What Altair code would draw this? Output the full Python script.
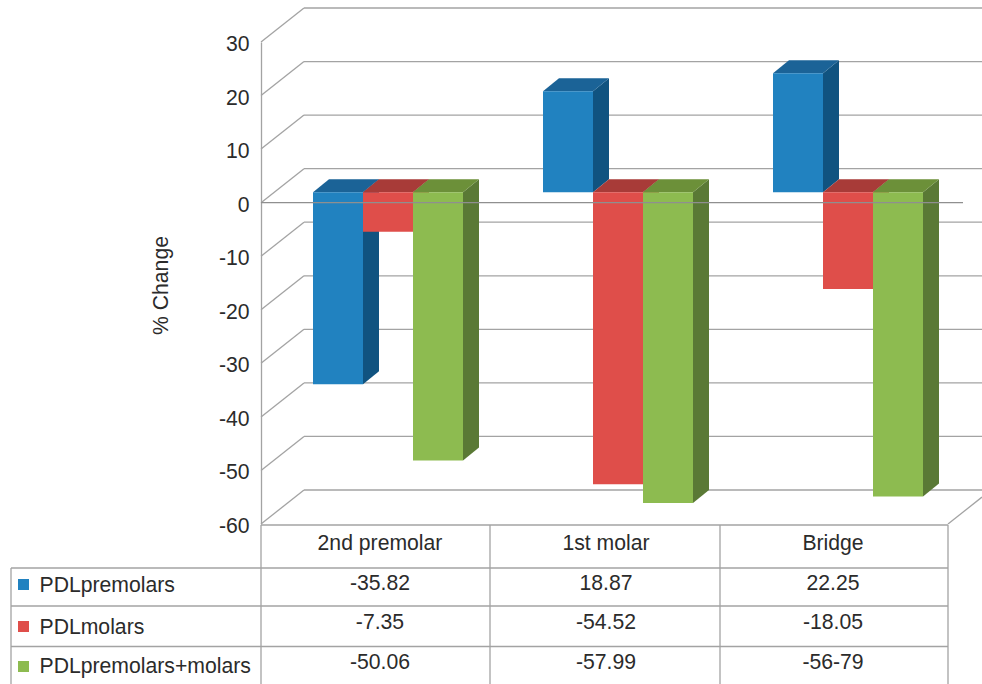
import altair as alt
import pandas as pd

# Chart values
categories = ["2nd premolar", "1st molar", "Bridge"]
series = ["PDLpremolars", "PDLmolars", "PDLpremolars+molars"]
premolars = [-35.82, 18.87, 22.25]
molars = [-7.35, -54.52, -18.05]
both = [-50.06, -57.99, -56.79]
cell_text = [
    ["-35.82", "18.87", "22.25"],
    ["-7.35", "-54.52", "-18.05"],
    ["-50.06", "-57.99", "-56-79"],
]
ticks = [30, 20, 10, 0, -10, -20, -30, -40, -50, -60]
front_colors = ["#2182c0", "#df4e4a", "#8dbb50"]
side_colors = ["#105380", "#a83b38", "#5a7935"]
top_colors = ["#1b6397", "#a83b38", "#6c9039"]

GRID = "#a3a3a3"
INK = "#2b2b2b"
FONT = "Liberation Sans"
FS = 21.2

# Layout: the plot spans x 261..982 and y 42..524 on the page
LEFT, TOP, W, H = 261, 42, 721, 482
CAT = 230                  # page pixels per category
PER_UNIT = H / 90          # page pixels per percentage point
ZERO_Y = TOP + 30 * PER_UNIT


def ux(px):
    """Page x to category units."""
    return (px - LEFT) / CAT


def uy(py):
    """Page y to percentage units."""
    return (ZERO_Y - py) / PER_UNIT


X_MAX = ux(LEFT + W)
x_scale = alt.Scale(domain=[0, X_MAX], nice=False, zero=False)
y_scale = alt.Scale(domain=[-60, 30], nice=False, zero=False)

y_axis = alt.Axis(
    values=ticks, grid=False, ticks=False, domainColor=GRID, domainWidth=1.3,
    labelFont=FONT, labelFontSize=FS, labelColor=INK, labelPadding=12,
    labelOffset=2.5, labelExpr="'' + datum.value",
    title="% Change", titleFont=FONT, titleFontSize=FS, titleFontWeight="normal",
    titleColor=INK, titleX=-90, titleY=243, titleAngle=270,
)

# Perspective offsets of the walls and of the bars, in scale units
WALL_DX, WALL_DY = 43 / CAT, 34 / PER_UNIT
BAR_DX, BAR_DY = 16 / CAT, 13 / PER_UNIT
BAR_W = 50 / CAT
BAR_X0 = 52 / CAT
BASE = 10.3 / PER_UNIT


def X(f):
    return alt.X(f, type="quantitative", scale=x_scale, axis=None)


def Y(f):
    return alt.Y(f, type="quantitative", scale=y_scale, axis=y_axis)


# Walls: a diagonal and a back line for every tick, then the right-hand diagonal
wall = []
for t in ticks:
    wall.append(dict(x=0, x2=WALL_DX, y=t, y2=t + WALL_DY))
    wall.append(dict(x=WALL_DX, x2=X_MAX, y=t + WALL_DY, y2=t + WALL_DY))
table_right = ux(948)
wall.append(dict(x=table_right, x2=X_MAX, y=-60,
                 y2=-60 + WALL_DY * (X_MAX - table_right) / WALL_DX))


def seg_layer(rows, color=GRID, width=1.3):
    return alt.Chart(pd.DataFrame(rows)).mark_rule(color=color, strokeWidth=width).encode(
        x=X("x"), x2="x2", y=Y("y"), y2="y2"
    )


layers = [seg_layer(wall)]

# Bars: side face, top face and front face for each series, left to right
for s, values in enumerate([premolars, molars, both]):
    fronts, sides, tops = [], [], []
    for c, v in enumerate(values):
        x0 = c + BAR_X0 + s * BAR_W
        x1 = x0 + BAR_W
        end = BASE + v
        cap = max(end, BASE)
        fronts.append(dict(x=x0, x2=x1, y=BASE, y2=end))
        sides.append(dict(cat=c, x=x1, y=BASE, y2=end))
        sides.append(dict(cat=c, x=x1 + BAR_DX, y=BASE + BAR_DY, y2=end + BAR_DY))
        tops.append(dict(cat=c, x=x0, x2=x1, y=cap))
        tops.append(dict(cat=c, x=x0 + BAR_DX, x2=x1 + BAR_DX, y=cap + BAR_DY))
    layers.append(alt.Chart(pd.DataFrame(sides)).mark_area(color=side_colors[s]).encode(
        x=X("x"), y=Y("y"), y2="y2", detail="cat:N"))
    layers.append(alt.Chart(pd.DataFrame(tops)).mark_area(color=top_colors[s], orient="horizontal").encode(
        x=X("x"), x2="x2", y=Y("y"), detail="cat:N"))
    layers.append(alt.Chart(pd.DataFrame(fronts)).mark_rect(color=front_colors[s]).encode(
        x=X("x"), x2="x2", y=Y("y"), y2="y2"))

# Zero line runs in front of the bars
layers.append(seg_layer([dict(x=0, x2=ux(963), y=0, y2=0)], color="#8f8f8f", width=1.4))

# Data table grid
row_lines = [525, 568, 606, 646.5]
col_lines = [261, 490, 720, 948]
bottom = uy(684)
grid = [dict(x=ux(261), x2=ux(948), y=uy(row_lines[0]), y2=uy(row_lines[0]))]
for r in row_lines[1:]:
    grid.append(dict(x=ux(11), x2=ux(948), y=uy(r), y2=uy(r)))
for c in col_lines:
    grid.append(dict(x=ux(c), x2=ux(c), y=uy(row_lines[0]), y2=bottom))
grid.append(dict(x=ux(11), x2=ux(11), y=uy(568), y2=bottom))
layers.append(seg_layer(grid))

# Table text
col_centers = [380, 606, 833]
value_rows = [584, 623, 663]
label_rows = [586, 628, 667]
cells = [dict(x=ux(col_centers[i]), y=uy(544), t=categories[i]) for i in range(3)]
for r in range(3):
    for c in range(3):
        cells.append(dict(x=ux(col_centers[c]), y=uy(value_rows[r]), t=cell_text[r][c]))
layers.append(alt.Chart(pd.DataFrame(cells)).mark_text(
    font=FONT, fontSize=FS, color=INK, align="center", baseline="middle"
).encode(x=X("x"), y=Y("y"), text="t:N"))

names = [dict(x=ux(39.5), y=uy(label_rows[i]), t=series[i]) for i in range(3)]
layers.append(alt.Chart(pd.DataFrame(names)).mark_text(
    font=FONT, fontSize=FS, color=INK, align="left", baseline="middle"
).encode(x=X("x"), y=Y("y"), text="t:N"))

# Legend keys in the table's first column
swatch_rows = [584.5, 626.5, 666.5]
keys = [dict(x=ux(23.5), y=uy(swatch_rows[i]), s=series[i]) for i in range(3)]
layers.append(alt.Chart(pd.DataFrame(keys)).mark_square(size=121, opacity=1).encode(
    x=X("x"), y=Y("y"),
    color=alt.Color("s:N", scale=alt.Scale(domain=series, range=front_colors), legend=None),
))

chart = alt.layer(*layers).properties(
    width=W, height=H, background="white",
    autosize=alt.AutoSizeParams(type="none"),
    padding={"left": LEFT, "top": TOP, "right": 0, "bottom": 684 - TOP - H},
).configure_view(stroke=None)

chart.save("out.html", embed_options={"renderer": "svg", "actions": False})
